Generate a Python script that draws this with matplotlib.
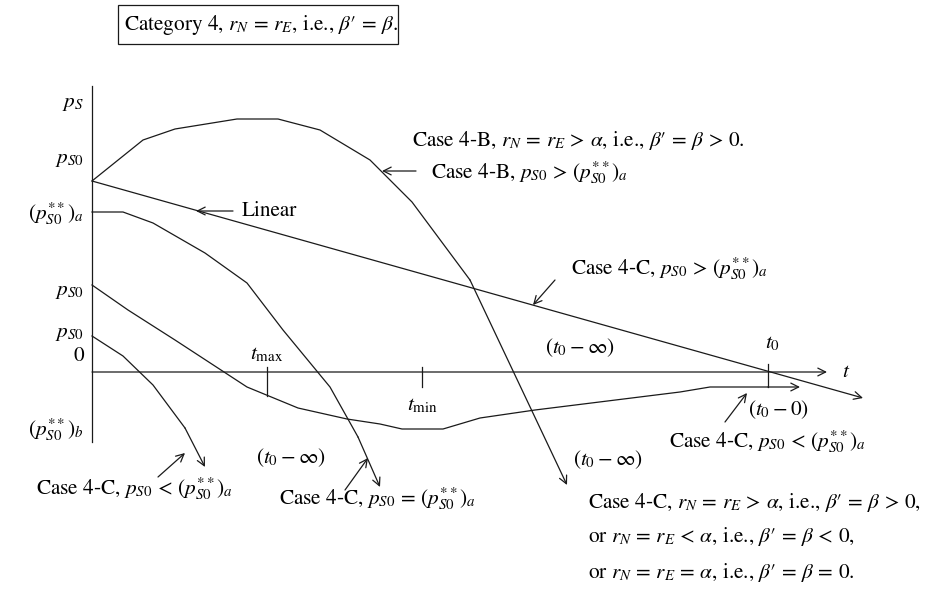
import matplotlib
matplotlib.use("Agg")
import matplotlib.pyplot as plt
from matplotlib.patches import Rectangle

plt.rcParams['font.family'] = ['STIXGeneral', 'DejaVu Serif']
plt.rcParams['mathtext.fontset'] = 'stix'

# ---- data (schematic, t to the right, p_S upward; origin at the axes crossing) ----
linear_t = [0, 771]
linear_p = [191, -26]

caseB_t = [0, 51, 83, 145, 186, 228, 278, 320, 378, 475]
caseB_p = [191, 232, 243, 253, 253, 242, 212, 170, 92, -113]

caseC_eq_t = [0, 31, 61, 113, 155, 191, 238, 266, 288]
caseC_eq_p = [160, 160, 149, 119, 89, 42, -15, -65, -115]

caseC_lt_t = [0, 36, 83, 155, 206, 255, 288, 310, 351, 388, 443, 588, 618, 676, 708]
caseC_lt_p = [87, 62, 32, -15, -36, -47, -52, -57, -57, -46, -38, -20, -15, -15, -15]

caseC_low_t = [0, 31, 61, 93, 113]
caseC_low_p = [36, 16, -13, -56, -95]

ytick_labels = [r'$p_S$', r'$p_{S0}$', r'$(p^{**}_{S0})_a$', r'$p_{S0}$', r'$p_{S0}$', '0', r'$(p^{**}_{S0})_b$']
ytick_pos = [269, 213, 158, 81, 39, 16, -58]

tmarks = {'tmax': 175, 'tmin': 330, 't0': 676}

X0, Y0 = 92, 372
fig = plt.figure(figsize=(9.28, 5.90), dpi=100)
ax = fig.add_axes([0, 0, 1, 1])
ax.set_xlim(-X0, 928 - X0)
ax.set_ylim(Y0 - 590, Y0)
ax.axis('off')

LW = 0.9
C = '#1a1a1a'
FS = 15.3
BP = r'\beta′'


def arrow(x1, y1, x2, y2, ms=14):
    ax.annotate('', xy=(x2, y2), xytext=(x1, y1),
                arrowprops=dict(arrowstyle='->', lw=LW, color=C,
                                shrinkA=0, shrinkB=0, mutation_scale=ms))


def curve(t, p):
    ax.plot(t[:-1], p[:-1], color=C, lw=LW, solid_joinstyle='miter')
    arrow(t[-2], p[-2], t[-1], p[-1])


def txt(x, y, s, ha='left', **kw):
    ax.text(x - X0, Y0 - y, s, fontsize=FS, ha=ha, va='center', **kw)


# axes
ax.plot([0, 0], [286, -70], color=C, lw=LW)
arrow(0, 0, 735, 0)
ax.text(750, 0, r'$t$', fontsize=FS, va='center', ha='left')

# curves
arrow(linear_t[0], linear_p[0], linear_t[1], linear_p[1])
curve(caseB_t, caseB_p)
curve(caseC_eq_t, caseC_eq_p)
curve(caseC_lt_t, caseC_lt_p)
curve(caseC_low_t, caseC_low_p)

# ticks
ax.plot([tmarks['tmax']] * 2, [5, -24], color=C, lw=LW)
ax.plot([tmarks['tmin']] * 2, [5, -15], color=C, lw=LW)
ax.plot([tmarks['t0']] * 2, [8, -15], color=C, lw=LW)
ax.text(tmarks['tmax'], 18, r'$t_{\max}$', fontsize=FS, ha='center', va='center')
ax.text(tmarks['tmin'], -33, r'$t_{\min}$', fontsize=FS, ha='center', va='center')
ax.text(tmarks['t0'] + 5, 29, r'$t_0$', fontsize=FS, ha='center', va='center')

# y labels
for lab, pos in zip(ytick_labels, ytick_pos):
    ax.text(-8, pos, lab, fontsize=FS, ha='right', va='center')

# title box
ax.add_patch(Rectangle((118 - X0, Y0 - 44), 280, 39, fill=False, lw=LW, ec=C))
txt(124, 25, r'Category 4, $r_N\,=\,r_E$, i.e., $' + BP + r'\,=\,\beta$.')

# annotations
txt(412, 141, r'Case 4-B, $r_N\,=\,r_E\,>\,\alpha$, i.e., $' + BP + r'\,=\,\beta\,>\,0$.')
arrow(416 - X0, Y0 - 171, 382 - X0, Y0 - 171)
txt(431, 173, r'Case 4-B, $p_{S0}\,>\,(p^{**}_{S0})_a$')

arrow(233 - X0, Y0 - 211, 196 - X0, Y0 - 211)
txt(242, 211, 'Linear')

arrow(555 - X0, Y0 - 280, 533 - X0, Y0 - 305)
txt(571, 269, r'Case 4-C, $p_{S0}\,>\,(p^{**}_{S0})_a$')

txt(580, 348, r'$(t_0-\infty)$', ha='center')
txt(608, 460, r'$(t_0-\infty)$', ha='center')
txt(291, 458, r'$(t_0-\infty)$', ha='center')

arrow(725 - X0, Y0 - 422, 747 - X0, Y0 - 393)
txt(748, 410, r'$(t_0-0)$')
txt(866, 442, r'Case 4-C, $p_{S0}\,<\,(p^{**}_{S0})_a$', ha='right')

arrow(345 - X0, Y0 - 490, 368 - X0, Y0 - 458)
txt(378, 499, r'Case 4-C, $p_{S0}\,=\,(p^{**}_{S0})_a$', ha='center')

arrow(158 - X0, Y0 - 477, 185 - X0, Y0 - 453)
txt(135, 489, r'Case 4-C, $p_{S0}\,<\,(p^{**}_{S0})_a$', ha='center')

txt(588, 502, r'Case 4-C, $r_N\,=\,r_E\,>\,\alpha$, i.e., $' + BP + r'\,=\,\beta\,>\,0$,')
txt(588, 537, r'or $r_N\,=\,r_E\,<\,\alpha$, i.e., $' + BP + r'\,=\,\beta\,<\,0$,')
txt(588, 572, r'or $r_N\,=\,r_E\,=\,\alpha$, i.e., $' + BP + r'\,=\,\beta\,=\,0$.')

fig.savefig('out.png', dpi=100)
